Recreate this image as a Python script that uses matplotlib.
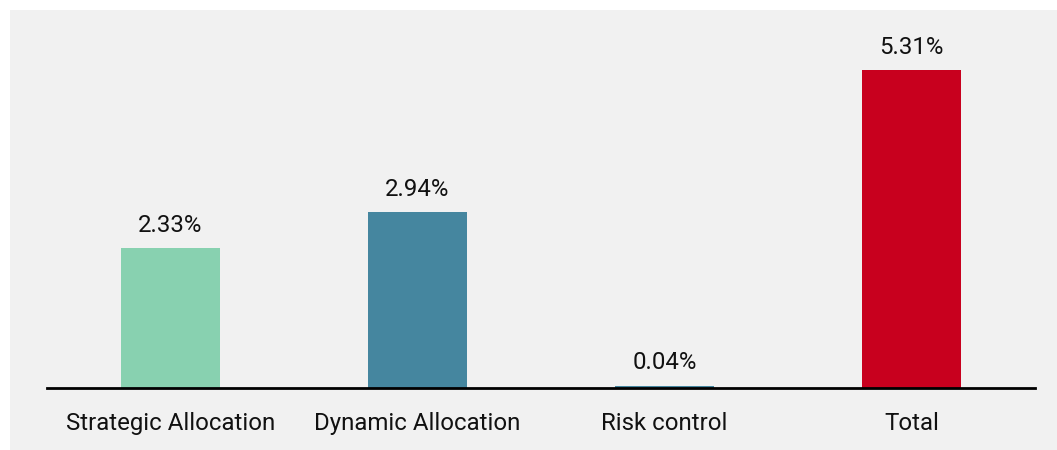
import matplotlib.pyplot as plt
from matplotlib.patches import Rectangle

categories = ['Strategic Allocation', 'Dynamic Allocation', 'Risk control', 'Total']
values = [2.33, 2.94, 0.04, 5.31]
colors = ['#88d1b0', '#45869f', '#45869f', '#c8001e']

plt.rcParams['font.family'] = ['Roboto', 'DejaVu Sans']

fig = plt.figure(figsize=(10.57, 4.5), dpi=100)
fig.patch.set_facecolor('white')

# light grey panel behind the chart
fig.patches.append(Rectangle((10 / 1057, 0), 1, 1 - 10 / 450,
                             transform=fig.transFigure, facecolor='#f1f1f1',
                             edgecolor='none', zorder=-1))

ax = fig.add_axes([47 / 1057, 1 - 388 / 450, 988 / 1057, 378 / 450])
ax.set_facecolor('none')

x = range(len(categories))
bars = ax.bar(x, values, width=0.4, color=colors)

for bar, v in zip(bars, values):
    ax.annotate(f'{v:.2f}%', (bar.get_x() + bar.get_width() / 2, v),
                xytext=(0, 8), textcoords='offset points',
                ha='center', va='bottom', fontsize=17.3, color='#111111')

ax.set_xlim(-0.5, 3.5)
ax.set_ylim(0, 6.31)
ax.set_xticks(list(x))
ax.set_xticklabels(categories, fontsize=17.3, color='#111111')
ax.tick_params(axis='x', length=0, pad=17)
ax.set_yticks([])
for side in ['top', 'right', 'left']:
    ax.spines[side].set_visible(False)
ax.spines['bottom'].set_linewidth(2)
ax.spines['bottom'].set_color('black')

fig.savefig('out.png', dpi=100)
